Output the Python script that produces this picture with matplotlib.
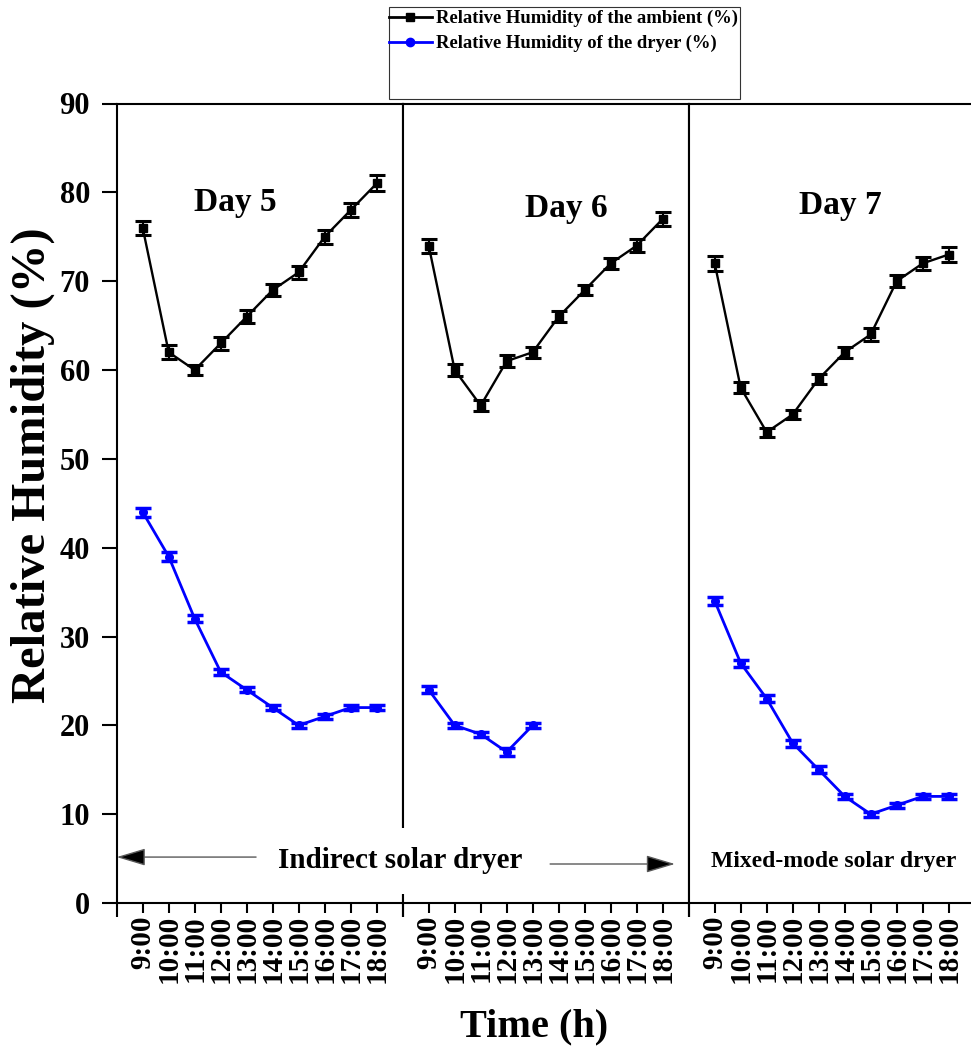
import matplotlib
matplotlib.use('Agg')
import matplotlib.pyplot as plt
from matplotlib.lines import Line2D
from matplotlib.patches import Rectangle

plt.rcParams['font.family'] = ['Liberation Serif', 'DejaVu Serif']
plt.rcParams['font.weight'] = 'bold'

# ---------------- data ----------------
hours = [9, 10, 11, 12, 13, 14, 15, 16, 17, 18]
time_labels = ['9:00', '10:00', '11:00', '12:00', '13:00', '14:00',
               '15:00', '16:00', '17:00', '18:00']
day_names = ['Day 5', 'Day 6', 'Day 7']

ambient_day5 = [76, 62, 60, 63, 66, 69, 71, 75, 78, 81]
ambient_day6 = [74, 60, 56, 61, 62, 66, 69, 72, 74, 77]
ambient_day7 = [72, 58, 53, 55, 59, 62, 64, 70, 72, 73]

dryer_day5 = [44, 39, 32, 26, 24, 22, 20, 21, 22, 22]
dryer_day6 = [24, 20, 19, 17, 20]          # 9:00 - 13:00 only
dryer_day7 = [34, 27, 23, 18, 15, 12, 10, 11, 12, 12]

ambient_err_day5 = [0.8, 0.8, 0.6, 0.7, 0.7, 0.7, 0.7, 0.8, 0.8, 0.9]
ambient_err_day6 = [0.8, 0.7, 0.6, 0.7, 0.6, 0.6, 0.6, 0.6, 0.7, 0.8]
ambient_err_day7 = [0.8, 0.6, 0.5, 0.5, 0.6, 0.6, 0.7, 0.7, 0.7, 0.8]
dryer_err_day5 = [0.5, 0.5, 0.4, 0.3, 0.3, 0.3, 0.3, 0.3, 0.3, 0.3]
dryer_err_day6 = [0.4, 0.3, 0.3, 0.4, 0.3]
dryer_err_day7 = [0.5, 0.4, 0.4, 0.4, 0.4, 0.3, 0.3, 0.3, 0.3, 0.3]

ambient = [ambient_day5, ambient_day6, ambient_day7]
dryer = [dryer_day5, dryer_day6, dryer_day7]
ambient_err = [ambient_err_day5, ambient_err_day6, ambient_err_day7]
dryer_err = [dryer_err_day5, dryer_err_day6, dryer_err_day7]

legend_labels = ['Relative Humidity of the ambient (%)',
                 'Relative Humidity of the dryer (%)']
y_ticks = [0, 10, 20, 30, 40, 50, 60, 70, 80, 90]

# ---------------- layout ----------------
W, H = 971, 1049
fig = plt.figure(figsize=(W / 100, H / 100), dpi=100)


def fx(px):
    return px / W


def fy(py):
    return 1 - py / H


panel_left = [116.7, 402.7, 688.7]
panel_w = 286
top, bottom = 103.5, 903
BLUE = '#0000FF'

title_pos = [(12.57, 77.9), (14.3, 77.2), (13.82, 77.6)]

axes = []
for i, L in enumerate(panel_left):
    ax = fig.add_axes([fx(L), fy(bottom), panel_w / W, (bottom - top) / H])
    axes.append(ax)
    ax.set_xlim(8, 19)
    ax.set_ylim(0, 90)
    for s in ax.spines.values():
        s.set_linewidth(1.5)
    ax.set_xticks(hours)
    ax.set_xticklabels(time_labels, rotation=90, fontsize=21,
                       fontweight='bold', va='top', ha='center')
    ax.tick_params(axis='x', direction='out', length=7.2, width=1.5, pad=1.5)
    if i == 0:
        ax.set_yticks(y_ticks)
        ax.set_yticklabels([str(v) for v in y_ticks], fontsize=22,
                           fontweight='bold')
        ax.tick_params(axis='y', direction='out', length=10.8, width=1.5,
                       pad=8.4)
    else:
        ax.set_yticks(y_ticks)
        ax.tick_params(axis='y', left=False, labelleft=False)

    # ambient
    ax.errorbar(hours, ambient[i], yerr=ambient_err[i], fmt='none',
                ecolor='k', elinewidth=1.5, capsize=6, capthick=2.2, zorder=3)
    ax.plot(hours, ambient[i], color='k', lw=1.7, marker='s', ms=5.5,
            zorder=4)
    # dryer
    hd = hours[:len(dryer[i])]
    ax.errorbar(hd, dryer[i], yerr=dryer_err[i], fmt='none',
                ecolor=BLUE, elinewidth=1.5, capsize=6, capthick=2.5, zorder=3)
    ax.plot(hd, dryer[i], color=BLUE, lw=2, marker='o', ms=5.5, zorder=4)

    ax.text(title_pos[i][0], title_pos[i][1], day_names[i], ha='center',
            va='baseline', fontsize=24, fontweight='bold')

    # boundary tick extensions below the axis
    ax.plot([0, 0], [0, -14 / (bottom - top)], transform=ax.transAxes,
            color='k', lw=1.5, clip_on=False, solid_capstyle='butt')
    if i < 2:
        ax.plot([1, 1], [0, -14 / (bottom - top)], transform=ax.transAxes,
                color='k', lw=1.5, clip_on=False, solid_capstyle='butt')

# arrows
arrow_kw = dict(arrowstyle='-|>,head_length=1.0,head_width=0.3',
                ec='0.35', fc='k', lw=1.0, mutation_scale=18,
                shrinkA=0, shrinkB=0)
axes[0].annotate('', xy=(8.0, 5.17), xytext=(13.36, 5.17),
                 arrowprops=arrow_kw, annotation_clip=False)
axes[1].annotate('', xy=(18.47, 4.39), xytext=(13.67, 4.39),
                 arrowprops=arrow_kw, annotation_clip=False)

fig.text(fx(400), fy(861), 'Indirect solar dryer', ha='center', va='center',
         fontsize=21, fontweight='bold',
         bbox=dict(facecolor='white', edgecolor='none', pad=14))
fig.text(fx(834), fy(861), 'Mixed-mode solar dryer', ha='center',
         va='center', fontsize=17, fontweight='bold')

# axis labels
fig.text(fx(33), fy(465), 'Relative Humidity (%)', rotation=90, ha='center',
         va='center', fontsize=35, fontweight='bold')
fig.text(fx(534), fy(1027), 'Time (h)', ha='center', va='center',
         fontsize=29, fontweight='bold')

# legend
handles = [Line2D([], [], color='k', lw=2, marker='s', ms=5.5),
           Line2D([], [], color=BLUE, lw=2, marker='o', ms=6)]
fig.legend(handles, legend_labels, loc='upper left',
           bbox_to_anchor=(fx(389), fy(10)), frameon=False,
           prop=dict(size=13.4, weight='bold'), handlelength=2.3,
           handletextpad=0.25, borderpad=0, borderaxespad=0,
           labelspacing=0.42)
fig.add_artist(Rectangle((fx(389), fy(99)), (740 - 389) / W, (99 - 7) / H,
                         transform=fig.transFigure, fill=False, ec='0.2',
                         lw=0.8))

fig.savefig('out.png', dpi=100)
